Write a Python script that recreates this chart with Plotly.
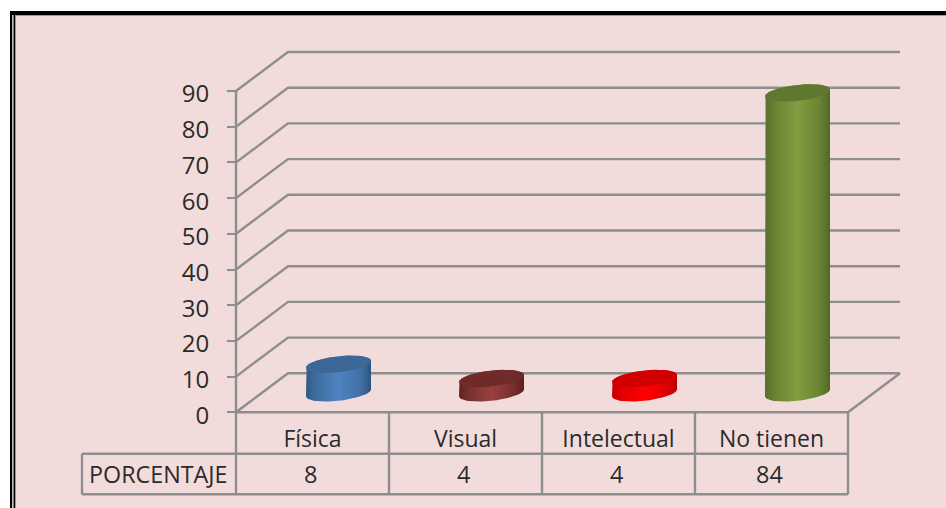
import numpy as np
import plotly.graph_objects as go

categories = ["Física", "Visual", "Intelectual", "No tienen"]
values = [8, 4, 4, 84]
y_ticks = [0, 10, 20, 30, 40, 50, 60, 70, 80, 90]
row_label = "PORCENTAJE"
body_scales = [
    [[0, "#2f5985"], [0.14, "#3f6c9f"], [0.5, "#5083c2"], [0.86, "#3f6ea3"], [1, "#2c527c"]],
    [[0, "#5e2120"], [0.14, "#76302e"], [0.5, "#97413e"], [0.86, "#742e2c"], [1, "#5a1f1e"]],
    [[0, "#c00000"], [0.14, "#e00000"], [0.5, "#ff0000"], [0.86, "#dd0000"], [1, "#b80000"]],
    [[0, "#55702a"], [0.18, "#6a8634"], [0.5, "#809d40"], [0.82, "#6a8634"], [1, "#506a26"]],
]
top_colors = ["#3c6797", "#6e2b29", "#d00000", "#5f772e"]

W, H = 946, 508
X0, CAT_W = 236.0, 153.0     # pixel of the first category edge, pixels per category
Y0, UNIT = 412.3, 3.57       # pixel of value 0, pixels per value unit
DEPTH_PX, RISE_PX = 52.0, 39.0
BACK_RIGHT = 900.0
LABEL_SHIFT_PX = 3.0         # value labels sit slightly below their tick marks
GRID = "#8e8e8e"
TEXT = "#2b2b2b"
BG = "#f2dcdb"
FONT = "Open Sans"

def dx(px):
    return 0.5 + (px - X0) / CAT_W

def dy(py):
    return (Y0 - py) / UNIT

def px_paper(x0, y0, x1, y1, color):
    return dict(type="rect", xref="paper", yref="paper", layer="below",
                x0=x0 / W, x1=x1 / W, y0=1 - y0 / H, y1=1 - y1 / H,
                fillcolor=color, line_width=0)

depth_x = DEPTH_PX / CAT_W
depth_y = RISE_PX / UNIT
x_left = 0.5
x_right = 0.5 + len(categories)

fig = go.Figure()

# Back wall + side wall grid lines
gx, gy = [], []
for v in y_ticks:
    gx += [x_left, x_left + depth_x, dx(BACK_RIGHT), None]
    gy += [v, v + depth_y, v + depth_y, None]
# Floor outline and value axis
gx += [x_right, dx(BACK_RIGHT), None, x_left, x_right, None, x_left, x_left, None]
gy += [0, depth_y, None, 0, 0, None, 0, max(y_ticks), None]
fig.add_trace(go.Scatter(x=gx, y=gy, mode="lines", line=dict(color=GRID, width=2.4),
                         hoverinfo="skip", showlegend=False, cliponaxis=False))

# Data table lines
tx, ty = [], []
r0, r1, r2 = Y0, 453.8, 494.3
for i in range(len(categories) + 1):
    e = x_left + i
    tx += [e, e, None]
    ty += [dy(r0), dy(r2), None]
tx += [dx(82), dx(82), None, dx(82), x_right, None, dx(82), x_right, None]
ty += [dy(r1), dy(r2), None, dy(r1), dy(r1), None, dy(r2), dy(r2), None]
fig.add_trace(go.Scatter(x=tx, y=ty, mode="lines", line=dict(color=GRID, width=2.4),
                         hoverinfo="skip", showlegend=False, cliponaxis=False))

# Cylinders
A_PX, TILT_PX, B_PX = 32.5, 3.5, 8.0
t_back = np.linspace(np.pi, 2 * np.pi, 50)   # back half of rim (upper on screen)
t_front = np.linspace(0, np.pi, 50)          # front half of rim (lower on screen)
t_all = np.linspace(0, 2 * np.pi, 100)

def rim(cx, v, t):
    xs = cx + depth_x / 2 + A_PX * np.cos(t) / CAT_W
    ys = v + depth_y / 2 + (TILT_PX * np.cos(t) - B_PX * np.sin(t)) / UNIT
    return xs, ys

for i, (v, scale, top) in enumerate(zip(values, body_scales, top_colors)):
    cx = i + 1
    bx, by = rim(cx, 0, t_front)
    ux, uy = rim(cx, v, t_back)
    ox = np.concatenate([bx, ux])
    oy = np.concatenate([by, uy])
    # silhouette: bottom rim from right end to left end, then top rim from left end to right end
    fig.add_trace(go.Scatter(x=ox, y=oy, mode="lines", line=dict(width=0), fill="toself",
                             fillgradient=dict(type="horizontal", colorscale=scale),
                             hoverinfo="skip", showlegend=False, cliponaxis=False))
    rx, ry = rim(cx, v, t_all)
    fig.add_trace(go.Scatter(x=rx, y=ry, mode="lines", line=dict(width=0), fill="toself",
                             fillcolor=top, hoverinfo="skip", showlegend=False, cliponaxis=False))

# Invisible trace that keeps the label-only value axis alive
fig.add_trace(go.Scatter(x=[1], y=[0], yaxis="y2", mode="markers", marker=dict(opacity=0),
                         hoverinfo="skip", showlegend=False))

# Value row of the data table
annotations = [dict(x=dx(157.5), y=dy(473.5), text=row_label, showarrow=False,
                    font=dict(family=FONT, size=23.3, color=TEXT))]
for i, v in enumerate(values):
    annotations.append(dict(x=i + 1 - 0.01, y=dy(473.5), text=str(v), showarrow=False,
                            font=dict(family=FONT, size=23.5, color=TEXT)))

shift = LABEL_SHIFT_PX / UNIT
fig.update_layout(
    width=W, height=H, autosize=False,
    margin=dict(l=0, r=0, t=0, b=0, pad=0),
    paper_bgcolor="white", plot_bgcolor="rgba(0,0,0,0)",
    showlegend=False, hovermode=False,
    font=dict(family=FONT, size=23, color=TEXT),
    xaxis=dict(range=[dx(0), dx(W)], anchor="free", position=1 - Y0 / H,
               tickmode="array", tickvals=[1, 2, 3, 4], ticktext=categories,
               showgrid=False, zeroline=False, showline=False, ticks="outside",
               ticklen=6, tickcolor="rgba(0,0,0,0)", tickfont=dict(family=FONT, size=23, color=TEXT),
               automargin=False),
    yaxis=dict(range=[dy(H), dy(0)], anchor="free", position=X0 / W,
               tickmode="array", tickvals=y_ticks, showticklabels=False,
               showgrid=False, zeroline=False, showline=False, ticks="outside",
               ticklen=9, tickwidth=2.4, tickcolor=GRID, automargin=False),
    yaxis2=dict(range=[dy(H) + shift, dy(0) + shift], anchor="free", position=X0 / W,
                overlaying="y", side="left",
                tickmode="array", tickvals=y_ticks, ticktext=[str(t) for t in y_ticks],
                showgrid=False, zeroline=False, showline=False, ticks="outside",
                ticklen=9, tickcolor="rgba(0,0,0,0)", ticklabelstandoff=13,
                tickfont=dict(family=FONT, size=24, color=TEXT), automargin=False),
    annotations=annotations,
    shapes=[
        px_paper(16, 16, W, H, BG),
        px_paper(10, 11, W, 15, "#000000"),
        px_paper(10, 11, 12.5, H, "#000000"),
        px_paper(12.5, 15, 13.5, H, "#ffffff"),
        px_paper(13.5, 15, 15, H, "#000000"),
        px_paper(15, 15, 16, H, "#9a9a9a"),
        px_paper(15, 15, W, 16, "#9a9a9a"),
    ],
)

fig.write_html("out.html", config=dict(displayModeBar=False),
               post_script="document.body.style.margin='0';document.body.style.overflow='hidden';")
